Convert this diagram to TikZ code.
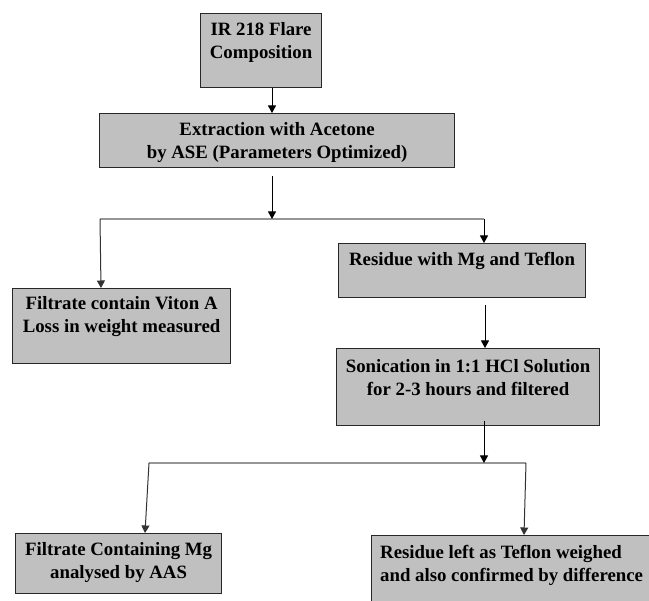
\documentclass[tikz,border=0pt]{standalone}
\usepackage{fontspec}
\setmainfont{Liberation Serif}[BoldFont={Liberation Serif Bold}]
\newfontfamily\tnrbold{Liberation Serif Bold}
\usetikzlibrary{arrows.meta}
\definecolor{boxgray}{RGB}{192,192,192}
\definecolor{edgegray}{RGB}{40,40,40}
\definecolor{branchgray}{RGB}{150,150,150}
\begin{document}
\begin{tikzpicture}[x=1pt,y=-1pt,
  box/.style={draw=edgegray, line width=1.2pt, fill=boxgray, inner sep=0pt, anchor=north west},
  txt/.style={font=\tnrbold\fontsize{18.8}{23}\selectfont, align=center, inner sep=0pt, anchor=north},
  ltxt/.style={font=\tnrbold\fontsize{18.8}{23}\selectfont, align=left, inner sep=0pt, anchor=north west},
  arr/.style={-{Triangle[length=7.5pt,width=8pt]}, line width=1pt, draw=black},
  branch/.style={draw=branchgray, line width=1.6pt}]
\useasboundingbox (0,0) rectangle (649,601);
\clip (0,0) rectangle (649,601);
\fill[white] (0,0) rectangle (649,601);
% boxes
\node[box, minimum width=121pt, minimum height=74pt] (b1) at (200,13) {};
\node[box, minimum width=355pt, minimum height=54pt] (b2) at (99,113) {};
\node[box, minimum width=247pt, minimum height=54pt] (b3) at (338,243) {};
\node[box, minimum width=218pt, minimum height=75pt] (b4) at (12,288) {};
\node[box, minimum width=263pt, minimum height=77pt] (b5) at (336,348) {};
\node[box, minimum width=206pt, minimum height=60pt] (b6) at (15,533) {};
\node[box, minimum width=300pt, minimum height=90pt] (b7) at (371,535) {};
% texts
\node[txt] (t1) at ([yshift=-9pt]b1.north) {IR 218 Flare\\Composition};
\node[txt] (t2) at ([yshift=-9pt]b2.north) {Extraction with Acetone\\by ASE (Parameters Optimized)};
\node[txt] (t3) at ([yshift=-9pt]b3.north) {Residue with Mg and Teflon};
\node[txt] (t4) at ([yshift=-8pt]b4.north) {Filtrate contain Viton A\\Loss in weight measured};
\node[txt] (t5) at ([yshift=-11pt]b5.north) {Sonication in 1:1 HCl Solution\\for 2-3 hours and filtered};
\node[txt] (t6) at ([yshift=-9pt]b6.north) {Filtrate Containing Mg\\analysed by AAS};
\node[ltxt] (t7) at (380,545) {Residue left as Teflon weighed\\and also confirmed by difference};
% junction coordinates
\coordinate (s2) at (272,176);
\coordinate (j1) at (272,219);
\coordinate (l1) at (100,219);
\coordinate (r1) at (484,219);
\coordinate (s3) at (485,305);
\coordinate (s5) at (484,421);
\coordinate (j2) at (484,463);
\coordinate (l2) at (149,463);
\coordinate (r2) at (526,463);
% branch lines
\draw[branch] (l1) -- (r1);
\draw[branch] (l2) -- (r2);
% arrows
\draw[arr] (b1.south -| s2) -- (b2.north -| s2);
\draw[arr] (s2) -- (j1);
\draw[arr, draw=black!80] (l1) -- (b4.north -| 101,0);
\draw[arr] (r1) -- (b3.north -| r1);
\draw[arr] (s3) -- (b5.north -| s3);
\draw[arr] (s5) -- (j2);
\draw[arr, draw=black!80] (l2) -- (b6.north -| 145,0);
\draw[arr, draw=black!80] (r2) -- (b7.north -| 524,0);
\end{tikzpicture}
\end{document}
